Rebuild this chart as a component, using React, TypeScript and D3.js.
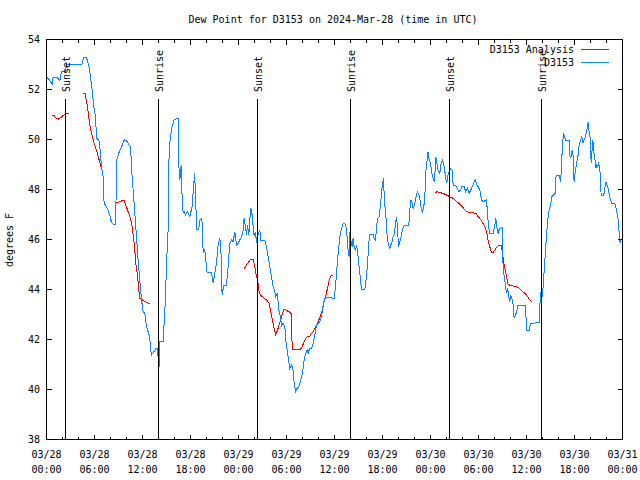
import React from "react";
import * as d3 from "d3";

const title = "Dew Point for D3153 on 2024-Mar-28 (time in UTC)";
const yAxisLabel = "degrees F";
const startTime = "2024-03-28T00:00:00Z";
const endTime = "2024-03-31T00:00:00Z";
const yTicks = [38, 40, 42, 44, 46, 48, 50, 52, 54];
const seriesNames = ["D3153 Analysis", "D3153"];
const seriesColors = ["#ff0000", "#0a84ff"];

const sunLabels = ["Sunset", "Sunrise", "Sunset", "Sunrise", "Sunset", "Sunrise"];
const sunHours = [2.375, 14.0, 26.375, 38.0, 50.375, 61.875];

// Observations (hours since 2024-03-28 00:00 UTC)
const obsHours = [
  0.0, 0.29, 0.7, 0.83, 1.33, 1.66, 1.88, 2.38, 2.5, 4.45, 4.63, 5.0, 5.13, 5.33, 5.5, 5.7, 5.91, 6.13, 6.25, 6.54,
  6.66, 6.88, 7.08, 7.2, 7.5, 7.7, 7.91, 8.13, 8.33, 8.63, 8.79, 9.04, 9.38, 9.75, 10.08, 10.33, 10.5, 10.7, 10.83, 11.04,
  11.25, 11.45, 11.66, 11.88, 12.08, 12.29, 12.5, 12.7, 12.91, 13.1, 13.33, 13.63, 13.83, 14.0, 14.04, 14.16, 14.58, 14.66, 14.88, 15.0,
  15.2, 15.25, 15.33, 15.48, 15.7, 15.95, 16.33, 16.5, 16.58, 16.66, 16.75, 16.83, 16.91, 17.08, 17.2, 17.38, 17.58, 17.7, 17.91, 18.04,
  18.16, 18.29, 18.41, 18.54, 18.58, 18.66, 18.75, 19.04, 19.16, 19.38, 19.5, 19.58, 19.79, 20.0, 20.08, 20.63, 20.83, 21.04, 21.25, 21.45,
  21.66, 21.79, 21.95, 22.16, 22.5, 22.7, 22.91, 23.13, 23.33, 23.54, 23.75, 23.95, 24.16, 24.38, 24.58, 24.7, 24.88, 25.0, 25.13, 25.29,
  25.41, 25.54, 25.7, 25.83, 25.95, 26.13, 26.25, 26.45, 26.66, 26.79, 27.29, 27.5, 27.7, 27.91, 28.13, 28.33, 28.54, 28.66, 28.83, 28.95,
  29.08, 29.25, 29.38, 29.58, 29.79, 29.91, 30.2, 30.41, 30.63, 30.83, 30.95, 31.13, 31.33, 31.54, 31.79, 32.0, 32.2, 32.41, 32.58, 32.7,
  32.91, 33.13, 33.33, 33.54, 33.75, 33.95, 34.16, 34.38, 34.58, 34.79, 35.0, 35.95, 36.13, 36.25, 36.38, 36.54, 36.66, 36.88, 37.08, 37.29,
  37.5, 37.63, 37.7, 37.83, 37.91, 38.04, 38.2, 38.33, 38.45, 38.63, 38.75, 38.88, 38.95, 39.08, 39.25, 39.38, 39.79, 40.0, 40.13, 40.29,
  40.41, 40.83, 40.95, 41.13, 41.25, 41.38, 41.58, 41.75, 41.88, 42.0, 42.13, 42.2, 42.29, 42.41, 42.5, 42.63, 42.79, 42.91, 43.04, 43.2,
  43.33, 43.45, 43.58, 43.75, 43.88, 44.0, 44.16, 44.29, 44.45, 44.58, 44.79, 45.29, 45.41, 45.54, 45.7, 45.83, 46.04, 46.25, 46.38, 46.58,
  46.75, 46.88, 47.0, 47.16, 47.29, 47.41, 47.58, 47.7, 47.83, 48.0, 48.16, 48.33, 48.5, 48.66, 48.83, 48.95, 49.16, 49.33, 49.5, 49.66,
  49.83, 50.0, 50.2, 50.33, 50.5, 50.7, 50.83, 51.13, 51.33, 51.54, 51.75, 51.95, 52.2, 52.41, 52.63, 52.83, 53.04, 53.25, 53.45, 53.63,
  53.75, 53.95, 54.16, 54.38, 54.58, 54.79, 55.0, 55.13, 55.25, 55.41, 55.83, 56.04, 56.16, 56.29, 56.45, 56.66, 56.95, 57.04, 57.08, 57.25,
  57.38, 57.5, 57.63, 57.79, 57.91, 58.04, 58.16, 58.33, 58.45, 58.63, 58.83, 58.95, 59.88, 60.0, 60.33, 60.5, 61.58, 61.66, 61.79, 61.95,
  62.08, 62.25, 62.41, 62.54, 62.66, 62.83, 63.0, 63.16, 63.58, 63.7, 64.08, 64.16, 64.25, 64.33, 64.41, 64.54, 64.63, 64.75, 64.91, 65.33,
  65.41, 65.54, 65.66, 65.79, 65.88, 65.95, 66.08, 66.25, 66.45, 66.58, 66.75, 66.91, 67.08, 67.2, 67.38, 67.5, 67.63, 67.7, 67.83, 68.0,
  68.08, 68.2, 68.29, 68.41, 68.54, 68.66, 68.79, 68.91, 69.0, 69.16, 69.25, 69.33, 69.66, 69.79, 69.91, 70.04, 70.16, 70.33, 70.5, 70.66,
  71.04, 71.2, 71.33, 71.45, 71.54, 71.63, 71.7, 71.79,
];
const obsValues = [
  52.49, 52.41, 52.21, 52.49, 52.49, 52.35, 52.71, 52.71, 53.02, 53.02, 53.26, 53.29, 53.11, 52.9, 52.51, 51.98, 51.31, 50.91, 50.05, 49.98,
  49.71, 48.91, 48.51, 47.45, 47.31, 47.18, 46.98, 46.67, 46.61, 46.61, 49.18, 49.46, 49.71, 50.01, 49.91, 49.78, 49.71, 48.51, 47.98, 47.06,
  46.11, 45.18, 44.38, 43.58, 43.11, 43.05, 42.51, 42.31, 42.05, 41.38, 41.47, 41.62, 41.65, 41.18, 40.65, 41.91, 41.91, 42.38, 43.71, 45.05,
  46.38, 47.58, 49.58, 50.1, 50.51, 50.78, 50.85, 50.85, 48.38, 48.78, 48.46, 48.98, 47.98, 47.06, 47.11, 46.98, 47.11, 47.05, 46.91, 47.11,
  47.18, 47.71, 48.25, 48.65, 48.05, 47.58, 46.41, 46.41, 46.78, 46.85, 46.51, 45.45, 45.58, 44.91, 44.67, 44.67, 44.25, 44.65, 45.05, 45.78,
  46.05, 45.71, 43.78, 44.18, 44.18, 44.91, 45.85, 45.98, 45.91, 46.31, 45.78, 45.85, 45.98, 46.09, 46.38, 46.85, 46.51, 46.18, 46.58, 46.18,
  46.78, 47.27, 46.98, 46.51, 46.14, 46.31, 45.85, 46.18, 46.38, 45.98, 45.98, 45.71, 45.31, 44.91, 44.51, 44.11, 43.91, 43.71, 43.85, 43.51,
  43.11, 42.91, 42.55, 42.65, 42.51, 41.98, 41.31, 40.85, 40.98, 40.78, 40.31, 39.91, 40.05, 40.11, 40.38, 40.65, 41.18, 41.45, 41.58, 41.45,
  41.65, 41.65, 41.85, 42.18, 42.58, 42.65, 42.71, 42.91, 43.38, 43.65, 43.69, 43.65, 44.11, 44.65, 45.18, 45.71, 46.11, 46.45, 46.65, 46.65,
  46.45, 45.85, 45.58, 45.31, 46.31, 45.98, 45.71, 46.05, 45.71, 45.58, 45.71, 45.58, 45.31, 44.91, 44.38, 44.01, 44.01, 44.51, 45.05, 45.85,
  46.21, 46.21, 46.05, 45.98, 46.45, 46.85, 46.91, 47.38, 47.85, 48.25, 48.45, 47.85, 47.38, 47.05, 46.45, 45.98, 45.78, 45.65, 45.78, 45.91,
  46.11, 46.18, 46.51, 46.91, 46.45, 45.71, 45.91, 46.05, 46.31, 46.49, 46.58, 46.58, 47.18, 47.58, 47.45, 47.25, 47.45, 47.78, 47.91, 47.78,
  47.45, 47.18, 47.11, 47.31, 47.71, 48.71, 49.18, 49.51, 49.18, 49.05, 48.65, 48.45, 48.31, 49.31, 48.98, 48.78, 48.65, 49.05, 49.18, 48.98,
  48.65, 48.25, 48.58, 48.71, 48.85, 48.78, 48.18, 48.18, 48.05, 47.91, 47.98, 48.14, 48.11, 47.91, 48.05, 47.85, 47.98, 48.14, 48.31, 48.38,
  48.22, 48.11, 47.98, 47.58, 47.51, 47.55, 47.58, 47.05, 46.51, 46.25, 46.25, 46.58, 46.85, 46.51, 46.25, 46.45, 46.47, 45.45, 44.78, 44.45,
  44.11, 43.85, 44.05, 43.71, 43.51, 43.78, 43.65, 43.38, 42.85, 42.98, 43.18, 43.38, 43.38, 42.38, 42.38, 42.65, 42.67, 43.31, 43.91, 43.71,
  44.11, 44.98, 45.71, 46.31, 46.78, 47.18, 47.38, 47.71, 47.85, 48.58, 48.58, 48.45, 48.31, 48.65, 49.25, 49.91, 50.25, 50.11, 49.95, 49.95,
  49.38, 49.25, 49.51, 49.58, 48.85, 48.31, 48.65, 49.05, 49.38, 49.78, 49.98, 50.11, 49.85, 49.98, 50.11, 50.31, 50.51, 50.71, 50.31, 49.98,
  49.05, 49.58, 49.98, 49.51, 49.25, 48.85, 48.98, 48.91, 49.05, 48.91, 48.31, 47.78, 47.78, 48.05, 48.31, 48.18, 48.11, 47.85, 47.58, 47.45,
  47.45, 47.25, 47.05, 46.78, 46.45, 46.11, 45.85, 45.98,
];

// Analysis (null = gap)
const anaHours = [
  0.66, 0.95, 1.16, 1.5, 1.79, 2.0, 2.41, 2.75, null,
  4.58, 4.83, 4.91, 5.13, 5.25, 5.41, 5.63, 5.83, 6.08, 6.29, 6.58, 6.83, null,
  8.54, 8.95, 9.38, 9.66, 9.91, 10.2, 10.5, 10.7, 10.91, 11.04, 11.16, 11.33, 11.45, 11.58, 11.66, 11.88, 12.08, 12.41, 12.7, 12.91, null,
  24.7, 25.0, 25.29, 25.54, 25.83, 26.04, 26.16, 26.33, 26.45, 26.58, 26.75, 27.08, 27.5, 27.83, 28.0, 28.25, 28.45, 28.66, 28.88, 29.08,
  29.29, 29.5, 29.7, 30.08, 30.54, 30.66, 30.7, 31.25, 31.75, 31.95, 32.16, 32.41, 32.58, 32.91, 33.16, 33.41, 33.66, 33.95, 34.25, 34.45,
  34.66, 34.88, 35.08, 35.25, 35.41, 35.63, 35.75, null,
  48.54, 48.83, 49.16, 49.58, 50.0, 50.41, 50.83, 51.16, 51.45, 51.75, 52.08, 52.38, 52.7, 53.13, 53.66, 53.95, 54.25, 54.5, 54.79, 55.0,
  55.2, 55.41, 55.63, 55.83, 56.04, 56.33, 56.66, 56.88, 57.0, 57.16, 57.33, 57.5, 57.7, 58.0, 58.33, 58.75, 59.08, 59.41, 59.7, 60.0,
  60.2, 60.41, 60.66,
];
const anaValues = [
  50.98, 50.95, 50.87, 50.82, 50.87, 50.95, 51.01, 51.06, null,
  51.85, 51.85, 51.65, 51.31, 50.98, 50.58, 50.25, 49.98, 49.71, 49.51, 49.18, 48.87, null,
  47.47, 47.49, 47.54, 47.58, 47.38, 47.11, 46.85, 46.51, 45.98, 45.58, 45.05, 44.65, 44.31, 43.85, 43.65, 43.61, 43.55, 43.51, 43.45, 43.45, null,
  44.82, 44.98, 45.11, 45.21, 45.21, 44.91, 44.65, 44.45, 44.25, 43.91, 43.78, 43.69, 43.58, 43.45, 43.18, 42.78, 42.45, 42.18, 42.38, 42.58,
  42.81, 43.05, 43.21, 43.15, 43.07, 42.91, 41.61, 41.61, 41.61, 41.71, 41.87, 42.05, 42.11, 42.14, 42.25, 42.35, 42.51, 42.71, 42.94, 43.15,
  43.45, 43.71, 43.98, 44.25, 44.45, 44.58, 44.58, null,
  47.87, 47.91, 47.87, 47.85, 47.78, 47.71, 47.65, 47.55, 47.47, 47.38, 47.27, 47.15, 47.09, 47.07, 47.05, 46.91, 46.81, 46.67, 46.54, 46.31,
  45.98, 45.71, 45.47, 45.47, 45.58, 45.71, 45.78, 45.74, 45.45, 45.05, 44.78, 44.51, 44.22, 44.15, 44.14, 44.11, 44.05, 43.95, 43.87, 43.78,
  43.69, 43.58, 43.51,
];

const W = 640;
const H = 480;
const PL = 46.5;
const PR = 622.5;
const PT = 39.5;
const PB = 439.5;
const FONT = "'DejaVu Sans Mono', 'Liberation Mono', monospace";

export default function App() {
  const t0 = new Date(startTime);
  const t1 = new Date(endTime);
  const toDate = (h: number) => new Date(t0.getTime() + h * 3600 * 1000);

  const x = d3.scaleUtc().domain([t0, t1]).range([PL, PR]);
  const y = d3.scaleLinear().domain([38, 54]).range([PB, PT]);

  const majorX = x.ticks(d3.utcHour.every(6) as any);
  const minorX = x.ticks(d3.utcHour.every(2) as any).filter((d) => d.getUTCHours() % 6 !== 0);
  const fmtDate = d3.utcFormat("%m/%d");
  const fmtTime = d3.utcFormat("%H:%M");

  const obs = obsHours.map((h, i) => ({ t: toDate(h), v: obsValues[i] }));
  const ana = anaHours.map((h, i) => ({ t: h == null ? null : toDate(h), v: anaValues[i] }));

  const lineObs = d3
    .line<{ t: Date; v: number }>()
    .x((d) => x(d.t))
    .y((d) => y(d.v));
  const lineAna = d3
    .line<{ t: Date | null; v: number | null }>()
    .defined((d) => d.t != null && d.v != null)
    .x((d) => x(d.t as Date))
    .y((d) => y(d.v as number));

  const majorLen = 5;
  const minorLen = 3;

  return (
    <svg
      width={W}
      height={H}
      style={{ position: "absolute", left: 0, top: 0, background: "#fff" }}
      fontFamily={FONT}
      fontSize={10}
    >
      <rect x={0} y={0} width={W} height={H} fill="#fff" />
      <text x={333} y={23} textAnchor="middle" fill="#000">
        {title}
      </text>
      <text transform={`translate(13,240) rotate(-90)`} textAnchor="middle" fill="#000">
        {yAxisLabel}
      </text>

      <defs>
        <clipPath id="plotclip">
          <rect x={PL} y={PT} width={PR - PL} height={PB - PT} />
        </clipPath>
      </defs>
      <g clipPath="url(#plotclip)">
        <path d={lineAna(ana) || ""} fill="none" stroke={seriesColors[0]} strokeWidth={1} shapeRendering="crispEdges" />
        <path d={lineObs(obs) || ""} fill="none" stroke={seriesColors[1]} strokeWidth={1} shapeRendering="crispEdges" />
      </g>

      {sunHours.map((h, i) => {
        const xx = Math.round(x(toDate(h)) - 0.5) + 0.5;
        return (
          <g key={"sun" + i}>
            <line x1={xx} x2={xx} y1={99} y2={PB} stroke="#000" strokeWidth={1} shapeRendering="crispEdges" />
            <text transform={`translate(${xx + 4},92) rotate(-90)`} textAnchor="start" fill="#000">
              {sunLabels[i]}
            </text>
          </g>
        );
      })}

      <g shapeRendering="crispEdges" stroke="#000" strokeWidth={1}>
        {yTicks.map((v) => (
          <g key={"yt" + v}>
            <line x1={PL} x2={PL + majorLen} y1={y(v)} y2={y(v)} />
            <line x1={PR} x2={PR - majorLen} y1={y(v)} y2={y(v)} />
          </g>
        ))}
        {majorX.map((d, i) => {
          const xx = Math.round(x(d) - 0.5) + 0.5;
          return (
            <g key={"xm" + i}>
              <line x1={xx} x2={xx} y1={PB} y2={PB - majorLen} />
              <line x1={xx} x2={xx} y1={PT} y2={PT + majorLen} />
            </g>
          );
        })}
        {minorX.map((d, i) => {
          const xx = Math.round(x(d) - 0.5) + 0.5;
          return (
            <g key={"xn" + i}>
              <line x1={xx} x2={xx} y1={PB} y2={PB - minorLen} />
              <line x1={xx} x2={xx} y1={PT} y2={PT + minorLen} />
            </g>
          );
        })}
        <rect x={PL} y={PT} width={PR - PL} height={PB - PT} fill="none" />
      </g>

      {yTicks.map((v) => (
        <text key={"yl" + v} x={40} y={y(v) + 3.5} textAnchor="end" fill="#000">
          {v}
        </text>
      ))}
      {majorX.map((d, i) => (
        <g key={"xl" + i}>
          <text x={x(d)} y={458} textAnchor="middle" fill="#000">
            {fmtDate(d)}
          </text>
          <text x={x(d)} y={473} textAnchor="middle" fill="#000">
            {fmtTime(d)}
          </text>
        </g>
      ))}

      {seriesNames.map((name, i) => {
        const yy = 49.5 + i * 13;
        return (
          <g key={"lg" + i}>
            <text x={574} y={yy + 3.5} textAnchor="end" fill="#000">
              {name}
            </text>
            <line x1={581} x2={609} y1={yy} y2={yy} stroke={seriesColors[i]} strokeWidth={1} shapeRendering="crispEdges" />
          </g>
        );
      })}
    </svg>
  );
}
